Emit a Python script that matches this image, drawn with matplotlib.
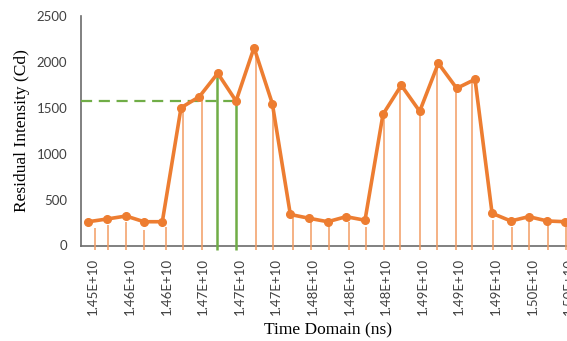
import matplotlib.pyplot as plt
from matplotlib.ticker import FixedLocator, FuncFormatter

# measured curve: time (ns) and residual intensity (Cd)
time_ns = [1.45422e10, 1.45604e10, 1.45783e10, 1.45955e10, 1.46130e10,
           1.46309e10, 1.46484e10, 1.46660e10, 1.46835e10, 1.47007e10,
           1.47182e10, 1.47354e10, 1.47536e10, 1.47712e10, 1.47887e10,
           1.48068e10, 1.48240e10, 1.48415e10, 1.48591e10, 1.48769e10,
           1.48945e10, 1.49120e10, 1.49283e10, 1.49462e10, 1.49634e10,
           1.49812e10, 1.49984e10]
intensity = [259, 289, 321, 259, 259, 1501, 1621, 1876, 1574, 2155,
             1545, 338, 296, 259, 314, 275, 1429, 1745, 1462, 1985,
             1712, 1810, 351, 267, 314, 267, 259]

# thin drop lines under the curve
drop_time_ns = [1.45486e10, 1.45613e10, 1.45780e10, 1.45955e10, 1.46162e10,
                1.46331e10, 1.46510e10, 1.47026e10, 1.47191e10, 1.47377e10,
                1.47549e10, 1.47721e10, 1.47918e10, 1.48075e10, 1.48250e10,
                1.48403e10, 1.48594e10, 1.48754e10, 1.48936e10, 1.49094e10,
                1.49295e10, 1.49471e10, 1.49639e10, 1.49818e10, 1.49990e10]
drop_height = [187, 223, 259, 169, 198, 1476, 1607, 2130, 1531, 296,
               278, 242, 259, 198, 1403, 1712, 1457, 1948, 1694, 1803,
               278, 198, 259, 223, 225]

# green markers for the 1574 Cd level
mark_time_ns = [1.46656e10, 1.46832e10]
mark_height = [1876, 1574]
level = 1574

tick_pos = [1.4547e10 + 3.5e7 * i for i in range(14)]

orange = '#ED7D31'
green = '#70AD47'
gray = '#404040'

fig = plt.figure(figsize=(5.67, 3.41), dpi=100)
ax = fig.add_axes([81 / 567, 95.5 / 341, 519 / 567, 229.5 / 341])

ax.vlines(drop_time_ns, -45, drop_height, color='#F29D63', lw=1.1,
          clip_on=False, zorder=2)
ax.vlines(mark_time_ns, -45, mark_height, color=green, lw=1.8,
          clip_on=False, zorder=3)
ax.hlines(level, 1.453524e10, mark_time_ns[1], color=green, lw=1.6,
          linestyles=(0, (5, 3)), zorder=3)
ax.plot(time_ns, intensity, color=orange, lw=2.6, marker='o', ms=5.5,
        zorder=4, clip_on=False)

ax.set_xlim(1.453524e10, 1.50315e10)
ax.set_ylim(0, 2500)
ax.set_yticks([0, 500, 1000, 1500, 2000, 2500])
ax.xaxis.set_major_locator(FixedLocator(tick_pos))
ax.xaxis.set_major_formatter(FuncFormatter(lambda v, p: f'{v:.2E}'))

for s in ['top', 'right']:
    ax.spines[s].set_visible(False)
for s in ['left', 'bottom']:
    ax.spines[s].set_color('#6b6b6b')
    ax.spines[s].set_linewidth(1.2)
ax.spines['bottom'].set_zorder(1)

ax.tick_params(axis='both', length=0, labelcolor=gray, labelsize=9.5)
ax.tick_params(axis='y', pad=10)
ax.tick_params(axis='x', pad=9, labelrotation=90)
for lab in ax.get_xticklabels() + ax.get_yticklabels():
    lab.set_family('Lato')

fig.text(0.579, 0.032, 'Time Domain (ns)', ha='center', va='center',
         family='Liberation Serif', fontsize=12.5)
fig.text(0.039, 0.616, 'Residual Intensity (Cd)', ha='center', va='center',
         rotation=90, family='Liberation Serif', fontsize=12.5)

fig.savefig('out.png', dpi=100)
